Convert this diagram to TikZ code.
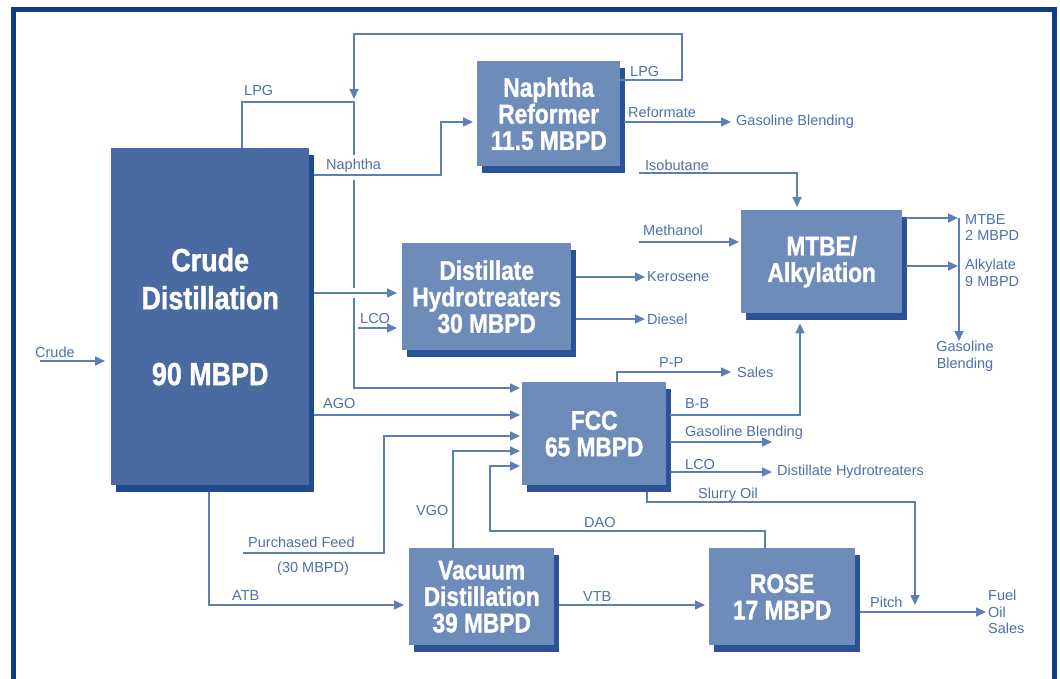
\documentclass[tikz,border=0pt]{standalone}
\usepackage{fontspec}
\setmainfont{Liberation Sans}
\newfontfamily\boxfont[FakeStretch=0.84,FakeBold=1.2]{Liberation Sans}
\usetikzlibrary{arrows.meta,shadows}
\definecolor{frameblue}{HTML}{0D3D85}
\definecolor{crudeblue}{HTML}{4A6BA1}
\definecolor{boxblue}{HTML}{6D8CB9}
\definecolor{shadowblue}{HTML}{2A5294}
\definecolor{crudeshadow}{HTML}{1F4A8C}
\definecolor{lineblue}{HTML}{5E7FB5}
\definecolor{lblblue}{HTML}{5070A8}
\begin{document}
\begin{tikzpicture}[x=1pt,y=-1pt,
  unit/.style={rectangle, fill=boxblue, inner sep=0pt, anchor=north west,
    text=white, align=center,
    font=\boxfont\bfseries\fontsize{27}{26.5}\selectfont,
    general shadow={fill=shadowblue, shadow xshift=5pt, shadow yshift=-7pt}},
  bigunit/.style={unit, fill=crudeblue,
    font=\boxfont\bfseries\fontsize{32}{38}\selectfont,
    general shadow={fill=crudeshadow, shadow xshift=5pt, shadow yshift=-7pt}},
  lbl/.style={font=\fontsize{14.5}{16.5}\selectfont, text=lblblue, inner sep=0pt, anchor=base west},
  dest/.style={font=\fontsize{14.5}{16.5}\selectfont, text=lblblue, inner sep=0pt, anchor=west, align=left},
  conn/.style={draw=lineblue, line width=1.6pt},
  arr/.style={conn, -{Triangle[length=10pt,width=9pt]}}
]
\useasboundingbox (0,0) rectangle (1060,679);
\fill[white] (0,0) rectangle (1060,679);
\draw[frameblue, line width=5pt] (13.5,10) rectangle (1054.5,720);

% units
\node[bigunit, minimum width=198pt, minimum height=337pt] (crude) at (111,148) {Crude\\Distillation\\[38pt]90 MBPD};
\node[unit, minimum width=143pt, minimum height=105pt] (reformer) at (477,61) {Naphtha\\Reformer\\11.5 MBPD};
\node[unit, minimum width=169pt, minimum height=107pt] (dht) at (402,243) {Distillate\\Hydrotreaters\\30 MBPD};
\node[unit, minimum width=161pt, minimum height=103pt] (mtbe) at (741,210) {MTBE/\\Alkylation};
\node[unit, minimum width=144pt, minimum height=103pt] (fcc) at (522,382) {FCC\\65 MBPD};
\node[unit, minimum width=145pt, minimum height=97pt] (vac) at (409,548) {Vacuum\\Distillation\\39 MBPD};
\node[unit, minimum width=146pt, minimum height=97pt] (rose) at (709,548) {ROSE\\17 MBPD};

% free ends and destination texts
\coordinate (crudein) at (40,361);
\coordinate (lcoin) at (358,328);
\coordinate (isoin) at (639,173);
\coordinate (methin) at (639,242);
\coordinate (pfin) at (243,553);
\coordinate (fccgb) at (772,442);
\coordinate (slurryend) at (915,605);
\node[dest] (gb1) at (736,122) {Gasoline Blending};
\node[dest] (kero) at (647,277) {Kerosene};
\node[dest] (diesel) at (647,319) {Diesel};
\node[dest, anchor=north west] (mtbeout) at (965,214) {MTBE\\2 MBPD};
\node[dest, anchor=north west] (alkout) at (965,259) {Alkylate\\9 MBPD};
\node[dest, anchor=north, align=center] (gb2) at (965,341) {Gasoline\\Blending};
\node[dest] (sales) at (737,372) {Sales};
\node[dest] (dh) at (777,472) {Distillate Hydrotreaters};
\node[dest] (fuel) at (988,612) {Fuel\\Oil\\Sales};

% connectors
\draw[arr, shorten >=6pt] (crudein) -- (crude.west |- crudein);
\draw[arr, shorten >=2pt] (crude.north -| 242,0) |- (354,102) -- (354,155)
   (354,180) -- (354,288) (354,298) |- (fcc.west |- 0,388);
\draw[arr] (reformer.east |- 0,80) -- (682,80) -- (682,34) -| (354,99);
\draw[arr, shorten <=5pt, shorten >=4pt] (crude.east |- 0,175) -| (441,122) -- (reformer.west |- 0,122);
\draw[arr, shorten <=4pt, shorten >=5pt] (reformer.east |- 0,122) -- (gb1.west);
\draw[arr, shorten >=3pt] (isoin) -| (mtbe.north -| 797,0);
\draw[arr, shorten >=2pt] (methin) -- (mtbe.west |- methin);
\draw[arr, shorten <=5pt, shorten >=5pt] (crude.east |- 0,293) -- (dht.west |- 0,293);
\draw[arr, shorten >=5pt] (lcoin) -- (dht.west |- lcoin);
\draw[arr, shorten <=5pt, shorten >=2pt] (dht.east |- 0,277) -- (kero.west);
\draw[arr, shorten <=5pt, shorten >=2pt] (dht.east |- 0,319) -- (diesel.west);
\draw[arr, shorten <=4pt] (mtbe.east |- 0,218) -- (958,218);
\draw[arr, shorten <=4pt] (mtbe.east |- 0,266) -- (958,266);
\draw[arr] (959,218) -- (gb2.north -| 959,0);
\draw[arr, shorten >=6pt] (fcc.north -| 617,0) |- (sales.west);
\draw[arr, shorten <=4pt, shorten >=10pt] (fcc.east |- 0,415) -| (mtbe.south -| 800,0);
\draw[arr, shorten <=4pt] (fcc.east |- 0,442) -- (fccgb);
\draw[arr, shorten <=4pt, shorten >=5pt] (fcc.east |- 0,472) -- (dh.west);
\draw[arr, shorten <=7pt] (fcc.south -| 647,0) |- (915,502) -- (slurryend);
\draw[arr, shorten <=5pt, shorten >=2pt] (rose.east |- 0,612) -- (fuel.west);
\draw[arr, shorten <=5pt, shorten >=4pt] (vac.east |- 0,605) -- (rose.west |- 0,605);
\draw[arr, shorten <=7pt, shorten >=5pt] (crude.south -| 209,0) |- (vac.west |- 0,605);
\draw[arr, shorten <=5pt, shorten >=2pt] (crude.east |- 0,415) -- (fcc.west |- 0,415);
\draw[arr, shorten >=2pt] (pfin) -| (384,436) -- (fcc.west |- 0,436);
\draw[arr, shorten >=2pt] (vac.north -| 453,0) |- (fcc.west |- 0,451);
\draw[arr, shorten >=2pt] (rose.north -| 765,0) |- (490,531) |- (fcc.west |- 0,466);

% labels
\node[lbl] (lcrude) at (35,357) {Crude};
\node[lbl] (llpg1) at (244,96) {LPG};
\node[lbl] (lnaph) at (326,170) {Naphtha};
\node[lbl] (llco1) at (360,323) {LCO};
\node[lbl] (llpg2) at (630,77) {LPG};
\node[lbl] (lref) at (628,118) {Reformate};
\node[lbl] (liso) at (645,171) {Isobutane};
\node[lbl] (lmeth) at (643,236) {Methanol};
\node[lbl] (lago) at (323,408) {AGO};
\node[lbl] (lpf) at (248,547) {Purchased Feed};
\node[lbl] (lpf2) at (277,572) {(30 MBPD)};
\node[lbl] (lvgo) at (416,515) {VGO};
\node[lbl] (latb) at (232,600) {ATB};
\node[lbl] (lpp) at (659,367) {P-P};
\node[lbl] (lbb) at (685,408) {B-B};
\node[lbl] (lfgb) at (685,436) {Gasoline Blending};
\node[lbl] (llco2) at (685,469) {LCO};
\node[lbl] (lslurry) at (698,498) {Slurry Oil};
\node[lbl] (ldao) at (584,527) {DAO};
\node[lbl] (lvtb) at (583,601) {VTB};
\node[lbl] (lpitch) at (870,607) {Pitch};
\end{tikzpicture}
\end{document}
